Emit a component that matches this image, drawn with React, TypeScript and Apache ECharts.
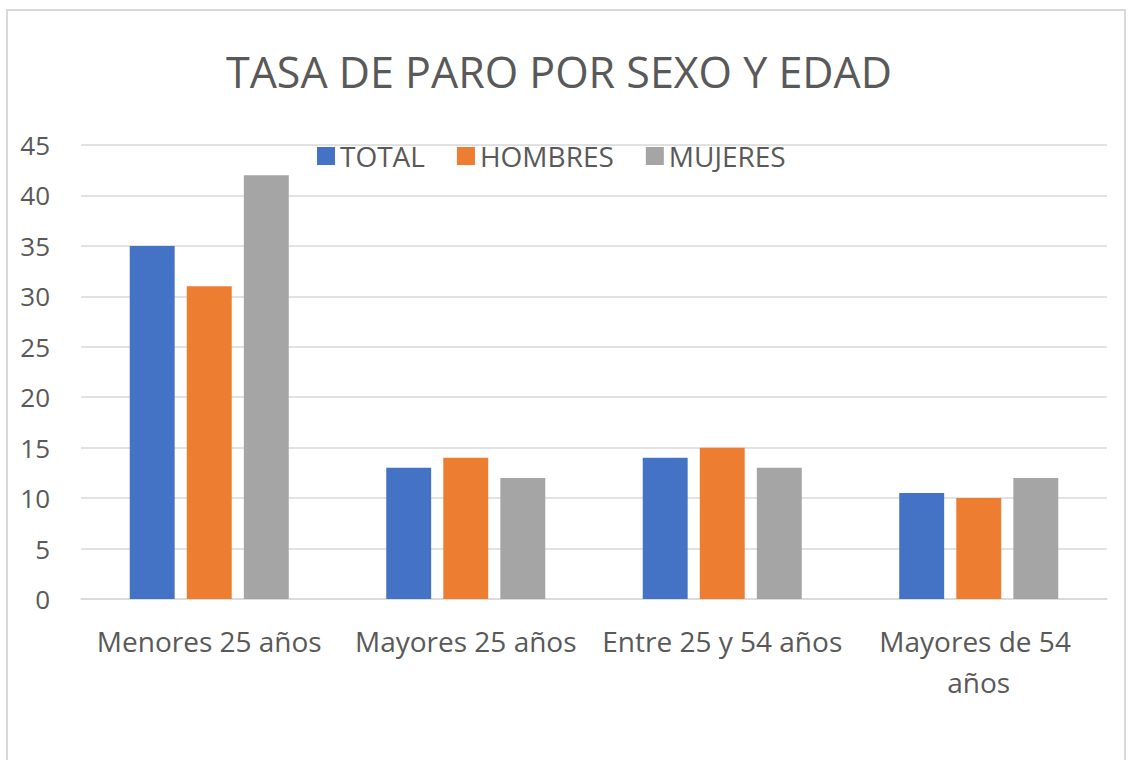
import React, { useEffect, useRef } from "react";
import * as echarts from "echarts";

const categories = ["Menores 25 años", "Mayores 25 años", "Entre 25 y 54 años", "Mayores de 54 años"];
const total = [35, 13, 14, 10.5];
const hombres = [31, 14, 15, 10];
const mujeres = [42, 12, 13, 12];
const seriesNames = ["TOTAL", "HOMBRES", "MUJERES"];
const colors = ["#4472C4", "#ED7D31", "#A5A5A5"];

const FONT = "'Open Sans', 'Noto Sans', sans-serif";

export default function App() {
  const ref = useRef<HTMLDivElement>(null);
  useEffect(() => {
    if (!ref.current) return;
    const chart = echarts.init(ref.current, undefined, { renderer: "svg" });
    const data = [total, hombres, mujeres];
    chart.setOption({
      animation: false,
      backgroundColor: "#ffffff",
      title: {
        text: "TASA DE PARO POR SEXO Y EDAD",
        left: 221,
        top: 45,
        textStyle: { fontFamily: FONT, fontSize: 43, fontWeight: "normal", color: "#595959" },
      },
      legend: {
        data: seriesNames,
        top: 137,
        left: 312,
        itemWidth: 18,
        itemHeight: 18,
        itemGap: 32,
        icon: "rect",
        textStyle: { fontFamily: FONT, fontSize: 28, color: "#595959" },
      },
      graphic: [
        {
          type: "rect",
          shape: { x: 7, y: 10, width: 1118, height: 780 },
          style: { fill: "none", stroke: "#d9d9d9", lineWidth: 2 },
          silent: true,
        },
      ],
      grid: { left: 81, right: 23, top: 145, bottom: 161, containLabel: false },
      xAxis: {
        type: "category",
        data: categories,
        axisLine: { show: true, lineStyle: { color: "#d9d9d9", width: 1.5 } },
        axisTick: { show: false },
        axisLabel: {
          interval: 0,
          fontFamily: FONT,
          fontSize: 28,
          color: "#595959",
          margin: 21,
          width: 257,
          overflow: "break",
          lineHeight: 41,
        },
      },
      yAxis: {
        type: "value",
        min: 0,
        max: 45,
        interval: 5,
        axisLine: { show: false },
        axisTick: { show: false },
        splitLine: { lineStyle: { color: "#d9d9d9", width: 1.5 } },
        axisLabel: { fontFamily: FONT, fontSize: 26, color: "#595959", margin: 31 },
      },
      series: seriesNames.map((name, i) => ({
        name,
        type: "bar",
        data: data[i],
        barGap: "27%",
        barCategoryGap: "38%",
        itemStyle: { color: colors[i] },
      })),
    });
    return () => chart.dispose();
  }, []);
  return (
    <div
      ref={ref}
      style={{ position: "fixed", left: 0, top: 0, width: 1130, height: 760 }}
    />
  );
}
